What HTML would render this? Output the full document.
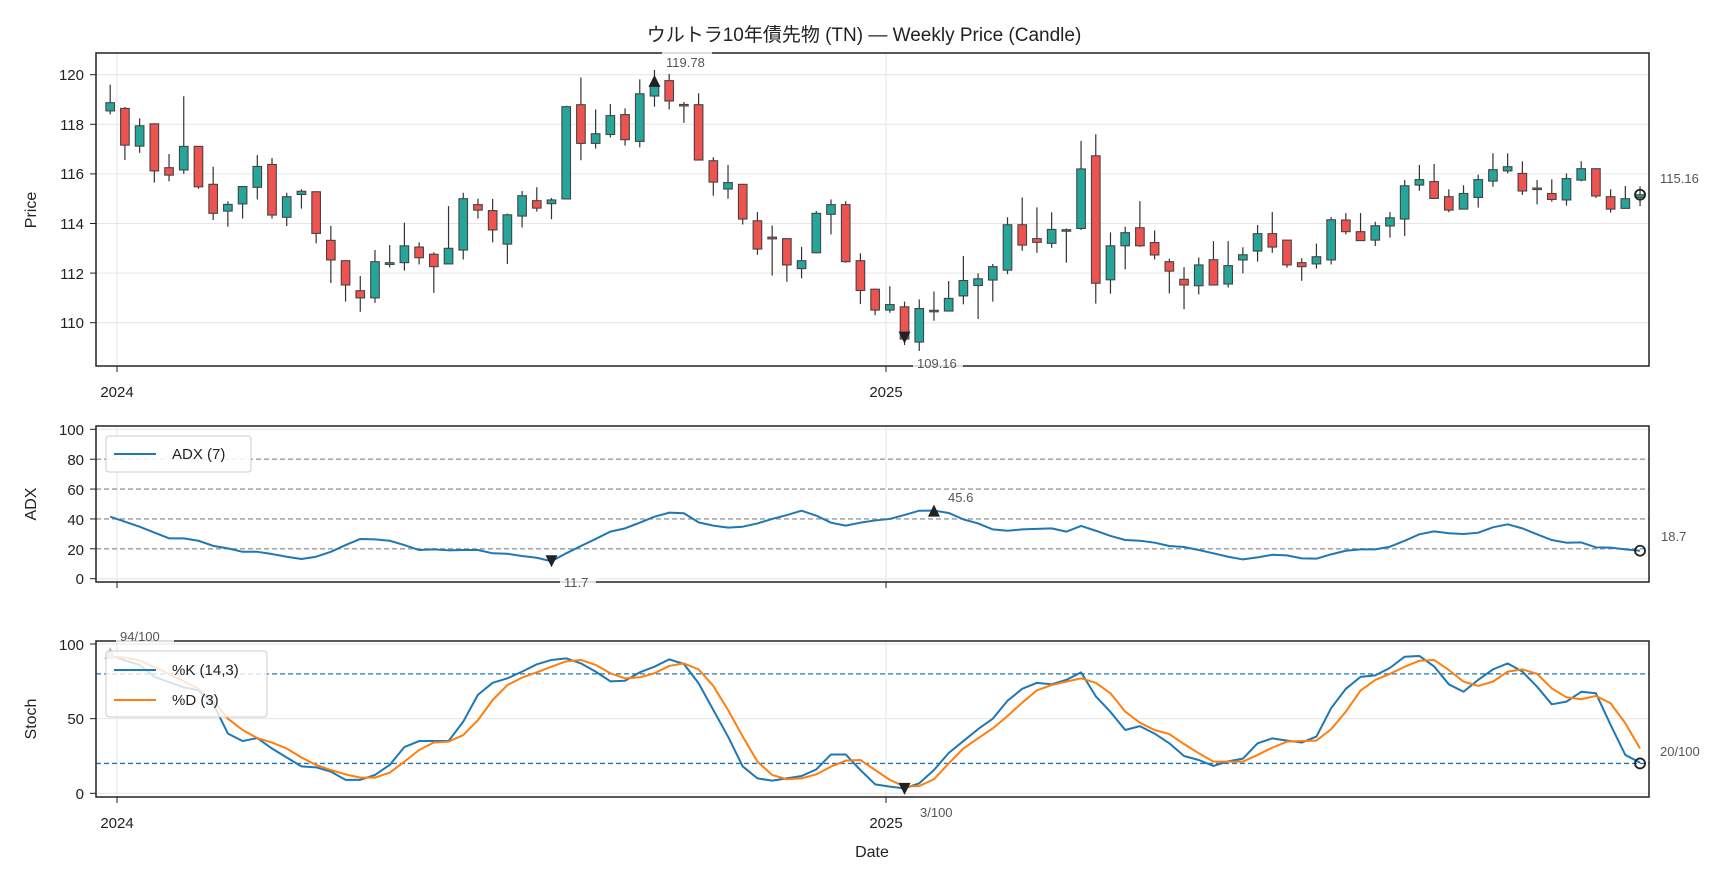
<!DOCTYPE html>
<html><head><meta charset="utf-8"><style>
html,body{margin:0;padding:0;background:#fff;}
svg{display:block;}
text{font-family:"Liberation Sans","Noto Sans CJK JP",sans-serif;}
.t{font-size:15px;fill:#222;}
.a{font-size:13px;fill:#555;}
</style></head><body>
<svg id="s" width="1728" height="878" xmlns="http://www.w3.org/2000/svg">
<rect width="1728" height="878" fill="#fff"/>
<g id="grid"></g>
<g id="data"></g>
<!-- frames -->
<rect x="96" y="53" width="1553" height="313" fill="none" stroke="#222" stroke-width="1.5"/>
<rect x="96" y="426" width="1553" height="156" fill="none" stroke="#222" stroke-width="1.5"/>
<rect x="96" y="641" width="1553" height="156" fill="none" stroke="#222" stroke-width="1.5"/>
<text x="864" y="41" text-anchor="middle" style="font-size:19px;fill:#222">ウルトラ10年債先物 (TN) — Weekly Price (Candle)</text>
<!-- price y ticks -->
<g class="t" text-anchor="end">
<text x="84" y="80">120</text><text x="84" y="130">118</text><text x="84" y="179">116</text>
<text x="84" y="229">114</text><text x="84" y="279">112</text><text x="84" y="328">110</text>
<text x="84" y="435">100</text><text x="84" y="465">80</text><text x="84" y="495">60</text>
<text x="84" y="525">40</text><text x="84" y="555">20</text><text x="84" y="584">0</text>
<text x="84" y="650">100</text><text x="84" y="724">50</text><text x="84" y="799">0</text>
</g>
<g class="t" text-anchor="middle">
<text x="117" y="397">2024</text><text x="886" y="397">2025</text>
<text x="117" y="828">2024</text><text x="886" y="828">2025</text>
<text x="872" y="857" style="font-size:16px">Date</text>
</g>
<g class="t" style="font-size:16px" text-anchor="middle">
<text transform="translate(36,210) rotate(-90)">Price</text>
<text transform="translate(36,504) rotate(-90)">ADX</text>
<text transform="translate(36,719) rotate(-90)">Stoch</text>
</g>
<!-- legends -->
<rect x="106" y="436" width="145" height="36" rx="3" fill="#fff" fill-opacity="0.85" stroke="#ccc"/>
<line x1="114" y1="454" x2="156" y2="454" stroke="#1f77b4" stroke-width="2"/>
<text class="t" x="172" y="459">ADX (7)</text>
<rect x="106" y="651" width="161" height="66" rx="3" fill="#fff" fill-opacity="0.8" stroke="#ccc"/>
<line x1="114" y1="670" x2="156" y2="670" stroke="#1f77b4" stroke-width="2"/>
<text class="t" x="172" y="675">%K (14,3)</text>
<line x1="114" y1="700" x2="156" y2="700" stroke="#ff7f0e" stroke-width="2"/>
<text class="t" x="172" y="705">%D (3)</text>
<!-- annotations -->
<g class="a">
<rect x="662" y="50" width="50" height="16" fill="#fff" fill-opacity="0.8"/>
<text x="666" y="67">119.78</text>
<rect x="913" y="355" width="50" height="16" fill="#fff" fill-opacity="0.8"/>
<text x="917" y="368">109.16</text>
<text x="1660" y="183">115.16</text>
<rect x="560" y="571" width="36" height="16" fill="#fff" fill-opacity="0.8"/>
<text x="564" y="587">11.7</text>
<text x="948" y="502">45.6</text>
<text x="1661" y="541">18.7</text>
<rect x="116" y="626" width="58" height="16" fill="#fff" fill-opacity="0.8"/>
<text x="120" y="641">94/100</text>
<text x="920" y="817">3/100</text>
<text x="1660" y="756">20/100</text>
</g>
</svg>
<script>
const NS="http://www.w3.org/2000/svg";
function el(p,t,a){const e=document.createElementNS(NS,t);for(const k in a)e.setAttribute(k,a[k]);p.appendChild(e);return e;}
const G=document.getElementById('grid'),D=document.getElementById('data');
const X=i=>110.2+14.71*i;
const PY=v=>74.7+(120-v)*24.8;
const AY=v=>578.7-v*1.494;
const SY=v=>793.3-v*1.493;
// grids
[120,118,116,114,112,110].forEach(v=>{el(G,'line',{x1:96,x2:1649,y1:PY(v),y2:PY(v),stroke:'#e6e6e6','stroke-width':1});el(G,'line',{x1:90,x2:96,y1:PY(v),y2:PY(v),stroke:'#222'});});
[[53,366],[426,582],[641,797]].forEach(([a,b])=>{[117,886].forEach(x=>{el(G,'line',{x1:x,x2:x,y1:a,y2:b,stroke:'#e6e6e6'});el(G,'line',{x1:x,x2:x,y1:b,y2:b+6,stroke:'#222'});});});
[0,100].forEach(v=>el(G,'line',{x1:96,x2:1649,y1:AY(v),y2:AY(v),stroke:'#e6e6e6'}));
[20,40,60,80].forEach(v=>el(G,'line',{x1:96,x2:1649,y1:AY(v),y2:AY(v),stroke:'#999','stroke-width':1.3,'stroke-dasharray':'5,3'}));
[0,20,40,60,80,100].forEach(v=>el(G,'line',{x1:90,x2:96,y1:AY(v),y2:AY(v),stroke:'#222'}));
[0,50,100].forEach(v=>{el(G,'line',{x1:96,x2:1649,y1:SY(v),y2:SY(v),stroke:'#e6e6e6'});el(G,'line',{x1:90,x2:96,y1:SY(v),y2:SY(v),stroke:'#222'});});
[20,80].forEach(v=>el(G,'line',{x1:96,x2:1649,y1:SY(v),y2:SY(v),stroke:'#1f77b4','stroke-width':1.3,'stroke-dasharray':'5,3'}));
// candles o,c,h,l
const C=[[118.54,118.87,119.6,118.4],[118.64,117.16,118.7,116.56],[117.12,117.94,118.24,116.85],[118.02,116.12,118.02,115.65],[116.25,115.95,116.8,115.7],[116.16,117.11,119.13,116.0],[117.11,115.48,117.1,115.4],[115.58,114.41,116.29,114.14],[114.5,114.77,114.89,113.87],[114.79,115.49,115.5,114.2],
[115.46,116.3,116.76,114.97],[116.38,114.34,116.64,114.2],[114.25,115.08,115.24,113.9],[115.17,115.3,115.38,114.6],[115.28,113.6,115.3,113.2],[113.32,112.53,113.9,111.6],[112.5,111.52,112.5,110.85],[111.29,111.0,111.88,110.44],[111.0,112.46,112.93,110.8],[112.35,112.42,113.13,112.23],
[112.42,113.1,114.03,112.1],[113.05,112.62,113.24,112.35],[112.76,112.26,112.84,111.2],[112.37,113.0,114.7,112.37],[112.93,115.0,115.24,112.55],[114.76,114.54,115.0,114.2],[114.52,113.74,114.99,113.24],[113.17,114.35,114.4,112.37],[114.3,115.12,115.31,113.84],[114.92,114.62,115.46,114.48],
[114.8,114.95,115.03,114.17],[114.99,118.71,118.75,114.99],[118.79,117.23,119.89,116.55],[117.23,117.62,118.6,117.02],[117.59,118.35,118.82,117.47],[118.39,117.38,118.64,117.14],[117.31,119.23,119.81,117.07],[119.14,119.58,120.19,118.71],[119.76,118.94,120.03,118.6],[118.8,118.75,118.9,118.06],
[118.79,116.56,119.25,116.56],[116.53,115.67,116.67,115.12],[115.39,115.65,116.36,115.0],[115.58,114.18,115.58,113.96],[114.11,112.97,114.46,112.74],[113.45,113.38,113.92,111.9],[113.39,112.33,113.39,111.65],[112.18,112.5,113.06,111.79],[112.82,114.41,114.5,112.8],[114.37,114.76,114.97,113.56],
[114.76,112.46,114.9,112.42],[112.5,111.3,112.8,110.75],[111.35,110.51,111.38,110.3],[110.51,110.73,111.47,110.4],[110.64,109.34,110.85,109.1],[109.22,110.57,110.94,108.86],[110.45,110.5,111.26,110.08],[110.47,110.98,111.68,110.47],[111.08,111.7,112.69,110.74],[111.5,111.77,111.99,110.15],
[111.72,112.26,112.37,110.85],[112.12,113.95,114.25,111.96],[113.95,113.13,115.05,112.9],[113.39,113.24,114.65,112.82],[113.2,113.76,114.45,113.02],[113.7,113.75,113.8,112.42],[113.8,116.2,117.33,113.74],[116.73,111.59,117.6,110.77],[111.73,113.1,113.64,111.17],[113.1,113.63,113.87,112.15],
[113.83,113.1,114.9,113.06],[113.23,112.73,113.72,112.55],[112.46,112.08,112.58,111.18],[111.75,111.52,112.24,110.54],[111.49,112.33,112.63,111.14],[112.54,111.52,113.29,111.52],[111.56,112.3,113.29,111.42],[112.53,112.74,113.04,111.99],[112.89,113.59,113.94,112.46],[113.59,113.05,114.46,112.82],
[113.33,112.33,113.33,112.22],[112.42,112.26,112.6,111.69],[112.37,112.66,113.19,112.18],[112.53,114.15,114.26,112.35],[114.14,113.67,114.42,113.56],[113.67,113.31,114.42,113.31],[113.33,113.91,114.07,113.09],[113.9,114.23,114.46,113.43],[114.18,115.52,115.75,113.5],[115.55,115.77,116.36,115.32],
[115.69,115.01,116.4,114.99],[115.08,114.54,115.38,114.45],[114.58,115.21,115.54,114.58],[115.05,115.77,115.97,114.64],[115.71,116.17,116.83,115.48],[116.12,116.29,116.83,116.02],[116.02,115.31,116.51,115.15],[115.43,115.38,115.75,114.77],[115.21,114.97,115.78,114.88],[114.95,115.81,116.02,114.72],
[115.75,116.21,116.51,115.7],[116.21,115.11,116.21,115.03],[115.08,114.58,115.38,114.44],[114.61,115.0,115.51,114.6],[115.05,115.16,115.5,114.7]];
C.forEach((c,i)=>{const x=X(i);const[o,cl,h,l]=c;
 el(D,'line',{x1:x,x2:x,y1:PY(h),y2:PY(l),stroke:'#333','stroke-width':1.2});
 const t=PY(Math.max(o,cl)),b=PY(Math.min(o,cl));
 el(D,'rect',{x:x-4.3,y:t,width:8.6,height:Math.max(b-t,1.5),fill:cl>=o?'#26a69a':'#ef5350',stroke:'#444','stroke-width':1.1});});
function interp(k){const out=[];for(let i=0;i<=104;i++){let j=0;while(j<k.length-2&&k[j+1][0]<i)j++;const[a,va]=k[j],[b,vb]=k[j+1];const t=Math.max(0,Math.min(1,(i-a)/(b-a)));out.push(va+(vb-va)*t);}return out;}
function line(vals,Y,col){el(D,'polyline',{points:vals.map((v,i)=>X(i)+','+Y(v)).join(' '),fill:'none',stroke:col,'stroke-width':2,'stroke-linejoin':'round'});}
const ADX=[[0,41.5],[2,34.8],[4,27],[5,27],[6,25.4],[7,22],[8,20.3],[9,18],[10,18],[11,16.5],[12,14.7],[13,13.2],[14,14.7],[15,18],[16,22.5],[17,26.6],[18,26.3],[19,25.4],[20,22.5],[21,19.2],[22,19.6],[23,19],[24,19.2],[25,19.2],[26,17],[27,16.7],[28,15.2],[29,14],[30,11.7],[31,17],[32,21.9],[33,26.6],[34,31.5],[35,33.7],[36,37.5],[37,41.5],[38,44.2],[39,43.8],[40,37.7],[41,35.5],[42,34.2],[43,34.8],[44,37],[45,40],[46,42.6],[47,45.5],[48,42.2],[49,37.5],[50,35.5],[51,37.5],[52,39],[53,40],[54,42.7],[55,45.5],[56,45.6],[57,44],[58,39.7],[59,37],[60,33],[61,32.1],[62,33],[64,33.7],[65,31.5],[66,35.3],[67,32.1],[68,28.6],[69,25.9],[70,25.4],[71,24.1],[72,21.9],[73,21.2],[74,19.2],[75,17],[76,14.7],[77,12.9],[78,14.3],[79,16],[80,15.6],[81,13.6],[82,13.4],[83,16.3],[84,18.7],[85,19.6],[86,19.6],[87,21.4],[88,25.4],[89,29.7],[90,31.7],[91,30.4],[92,29.9],[93,30.8],[94,34.4],[95,36.4],[96,33.7],[97,29.7],[98,25.9],[99,24.1],[100,24.3],[101,21],[102,20.8],[103,19.6],[104,18.7]];
line(interp(ADX),AY,'#1f77b4');
const K=[[0,92.6],[1,89],[2,86],[3,78],[5,71],[6,69],[7,60],[8,40],[9,35],[10,37],[11,30],[12,24],[13,18],[14,17.4],[15,14.5],[16,9],[17,9],[18,12.3],[19,19],[20,31],[21,35],[22,35],[23,35],[24,48],[25,66],[26,74],[27,77],[28,81.5],[29,86.4],[30,89.3],[31,90.4],[32,87],[33,81.5],[34,75],[35,75.4],[36,81],[37,84.8],[38,89.7],[39,86.6],[40,73.7],[41,55.8],[42,38],[43,18],[44,10],[45,8.5],[46,10],[47,11.6],[48,16],[49,26],[50,26],[51,15.6],[52,6],[53,4.5],[54,3.3],[55,6.7],[56,15.6],[57,27],[58,35],[59,43],[60,50],[61,62],[62,70],[63,74],[64,73],[65,76],[66,81],[67,65],[68,54.5],[69,42.4],[70,45],[71,40],[72,33.5],[73,25],[74,22.3],[75,18.3],[76,21.4],[77,23.2],[78,33.5],[79,36.8],[80,35.3],[81,34],[82,38],[83,57],[84,70],[85,78],[86,79],[87,84],[88,91.5],[89,92],[90,85],[91,73],[92,68],[93,76],[94,83],[95,87],[96,81.5],[97,71.4],[98,59.6],[99,61.4],[100,68],[101,67],[102,45.8],[103,25.7],[104,20.5]];
const Dd=[[0,91],[1,91],[2,89],[3,84.5],[4,80],[5,75],[6,70],[7,62],[8,50],[9,42.4],[10,37],[11,34],[12,30],[13,24],[14,19],[15,15.6],[16,12.7],[17,10.5],[18,10.5],[19,13.8],[20,21.2],[21,29],[22,34],[23,34.6],[24,39],[25,49],[26,62.5],[27,72.5],[28,77.5],[29,81],[30,84.8],[31,88.4],[32,89.3],[33,86],[34,80.4],[35,77],[36,77.7],[37,80.4],[38,85.3],[39,87],[40,83],[41,71.9],[42,55.8],[43,38],[44,21.2],[45,12.3],[46,9.4],[47,10],[48,12.7],[49,17.9],[50,21.9],[51,22.3],[52,15.6],[53,9],[54,4.5],[55,4.9],[56,9.4],[57,20],[58,30],[59,36.8],[60,43.5],[61,51.8],[62,60.7],[63,69],[64,72.5],[65,74.8],[66,77],[67,74],[68,67],[69,54.7],[70,47.3],[71,42.4],[72,39.7],[73,33],[74,26.8],[75,21.2],[76,21.2],[77,21.2],[78,25.7],[79,30.6],[80,34.6],[81,35],[82,35.3],[83,42.9],[84,54.7],[85,68.8],[86,75.9],[87,80],[88,84.8],[89,88.8],[90,89.3],[91,82.6],[92,74.8],[93,71.9],[94,74.8],[95,81.5],[96,83],[97,80],[98,70.3],[99,64.3],[100,63],[101,65.2],[102,60.3],[103,46.9],[104,30]];
line(interp(K),SY,'#1f77b4');
line(interp(Dd),SY,'#ff7f0e');
// markers
function tri(x,y,up,col){const s=6;el(D,'polygon',{points:up?`${x-s},${y+s} ${x+s},${y+s} ${x},${y-s}`:`${x-s},${y-s} ${x+s},${y-s} ${x},${y+s}`,fill:col||'#222'});}
tri(X(37),PY(119.75),true);tri(X(54),PY(109.4),false);
tri(X(30),AY(11.7),false);tri(X(56),AY(45.6),true);
tri(X(0),SY(94),true,'#bbb');tri(X(54),SY(3),false);
[[PY(115.16)],[AY(18.7)],[SY(20)]].forEach(([y])=>el(D,'circle',{cx:X(104),cy:y,r:5,fill:'none',stroke:'#222','stroke-width':1.8}));
</script>
</body></html>
